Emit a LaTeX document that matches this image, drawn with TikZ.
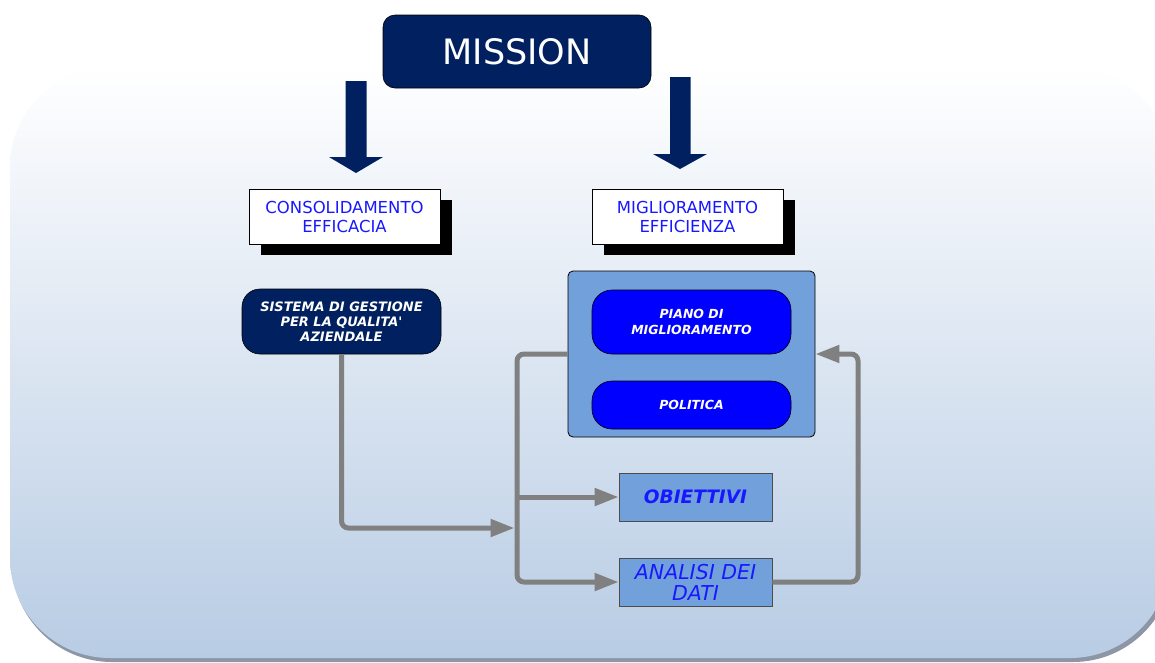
\documentclass[tikz,border=0pt]{standalone}
\usepackage{fontspec}
\setmainfont{DejaVu Sans}
\usetikzlibrary{arrows.meta,shadings}

\definecolor{navy}{RGB}{0,32,96}
\definecolor{txtblue}{RGB}{24,24,255}
\definecolor{boxblue}{RGB}{0,0,255}
\definecolor{midblue}{RGB}{114,160,218}
\definecolor{linegray}{RGB}{128,128,128}
\definecolor{bgbottom}{RGB}{184,204,228}
\definecolor{bgshadow}{RGB}{140,150,166}

\tikzset{
  darkbox/.style={draw=black, line width=0.6pt, fill=navy, text=white,
    rounded corners=18pt, align=center, inner sep=0pt},
  labelbox/.style={draw=black, line width=0.8pt, fill=white, text=txtblue,
    align=center, inner sep=0pt, minimum width=191pt, minimum height=55pt,
    font=\fontsize{16.5}{19}\selectfont},
  labelshadow/.style={fill=black},
  groupbox/.style={draw=black, line width=0.8pt, fill=midblue,
    rounded corners=5pt, inner sep=0pt},
  innerbox/.style={draw=black, line width=0.6pt, fill=boxblue, text=white,
    rounded corners=20pt, align=center, inner sep=0pt, minimum width=199pt,
    font=\fontsize{12.5}{16}\selectfont\bfseries\itshape},
  stagebox/.style={draw=black!70, line width=0.8pt, fill=midblue, text=txtblue,
    align=center, inner sep=0pt, minimum width=153pt, minimum height=48pt},
  conn/.style={draw=linegray, line width=5pt, rounded corners=7pt},
  tip/.style={-{Triangle[length=24pt,width=17pt]}},
  blockarrow/.style={fill=navy},
}

\begin{document}
\begin{tikzpicture}[x=1pt,y=-1pt]
\useasboundingbox (0,0) rectangle (1155,662);
\clip (0,0) rectangle (1155,662);

% background panel with its shadow along the lower edge
\fill[bgshadow, rounded corners=100pt] (12,300) rectangle (1173,662);
\shade[top color=white, bottom color=bgbottom, rounded corners=100pt]
  (10,67) rectangle (1170,658);

% title
\node[darkbox, rounded corners=12pt, minimum width=268pt, minimum height=73pt,
  font=\fontsize{35}{38}\selectfont] (mission) at (517,51.5) {MISSION};

% block arrows below the title
\fill[blockarrow] (345.5,81) -- (366.5,81) -- (366.5,157) -- (383,157)
  -- (356,173) -- (329,157) -- (345.5,157) -- cycle;
\fill[blockarrow] (670,77) -- (690.5,77) -- (690.5,154) -- (707,154)
  -- (680,169) -- (653,154) -- (670,154) -- cycle;

% headings with drop shadows
\fill[labelshadow] (261,200) rectangle (452,255);
\node[labelbox] (cons) at (344.5,216.5) {CONSOLIDAMENTO\\EFFICACIA};
\fill[labelshadow] (604,200) rectangle (795,255);
\node[labelbox] (migl) at (687.5,216.5) {MIGLIORAMENTO\\EFFICIENZA};

% quality system
\node[darkbox, minimum width=199pt, minimum height=65pt,
  font=\fontsize{13}{15}\selectfont\bfseries\itshape] (sistema) at (341.5,321.5)
  {SISTEMA DI GESTIONE\\PER LA QUALITA\textquotesingle\\AZIENDALE};

% improvement group
\node[groupbox, minimum width=247pt, minimum height=166pt] (container) at (691.5,354) {};
\node[innerbox, minimum height=64pt] (piano) at (691.5,322) {PIANO DI\\MIGLIORAMENTO};
\node[innerbox, minimum height=48pt] (politica) at (691.5,405) {POLITICA};

% stages
\node[stagebox, font=\fontsize{18.5}{20}\selectfont\bfseries\itshape] (obiettivi)
  at (695.5,497) {OBIETTIVI};
\node[stagebox, font=\fontsize{20.5}{21}\selectfont\itshape] (analisi)
  at (695.5,582) {ANALISI DEI\\DATI};

% connectors
\coordinate (busx) at (517,0);
\coordinate (loopx) at (858,0);
\coordinate (merge) at (514.5,528);

\draw[conn, tip] (sistema.south) |- (merge);
\draw[conn, tip] (container.west) -| (busx |- analisi.west) -- (analisi.west);
\draw[conn, tip, rounded corners=0pt] (busx |- obiettivi.west) -- (obiettivi.west);
\draw[conn, tip] (analisi.east) -| (loopx |- container.east) -- (container.east);
\end{tikzpicture}
\end{document}
